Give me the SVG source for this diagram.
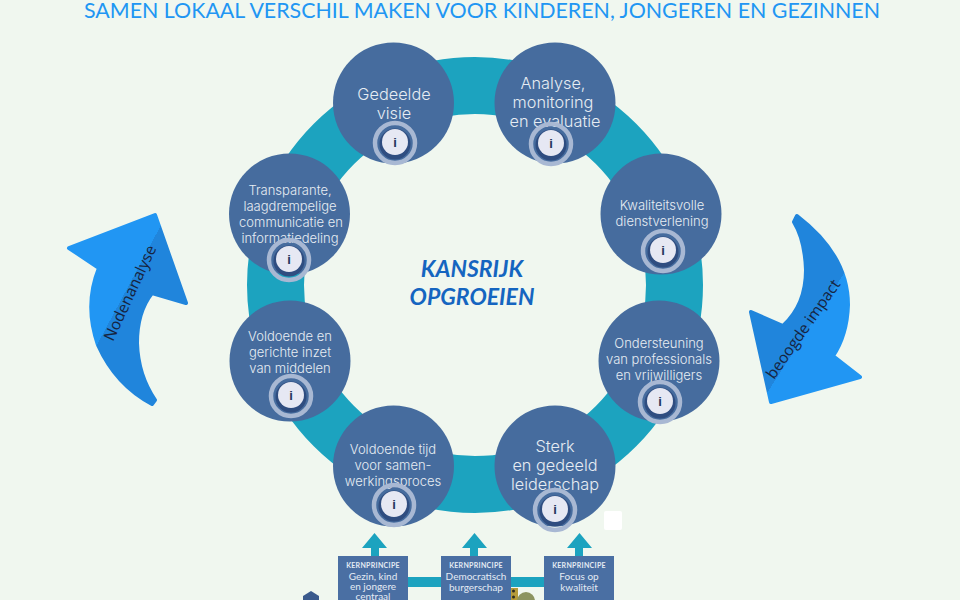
<svg xmlns="http://www.w3.org/2000/svg" width="960" height="600" viewBox="0 0 960 600">
<style>
.c{fill:#466c9e}
.t{font-family:"Inter","Lato",sans-serif;font-weight:300;fill:#e6ecf3;text-anchor:middle}
.l{font-size:16.300px}
.m{font-size:13px}
.o{fill:none;stroke:#a8b8d3;stroke-width:4.500}
.d{fill:#2f4d80}
.w{fill:#e6e8f3}
.i{font-family:"Liberation Sans",sans-serif;font-size:13px;font-weight:bold;fill:#24365c;text-anchor:middle}
.b{fill:#4a6fa3}
.k{font-family:"Lato",sans-serif;font-size:7px;font-weight:bold;letter-spacing:.3px;fill:#e4ebf3;text-anchor:middle}
.s{font-family:"Lato",sans-serif;font-size:10px;fill:#e4ebf3;text-anchor:middle}
.a{fill:#1ca3bf}
.h{font-family:"Lato",sans-serif;font-size:23px;font-weight:bold;font-style:italic;fill:#1565c0;text-anchor:middle}
</style>
<defs>
<linearGradient id="gl" gradientUnits="userSpaceOnUse" x1="129" y1="285" x2="245" y2="347"><stop offset="0" stop-color="#2196f3"/><stop offset="0" stop-color="#2085dc"/></linearGradient>
<linearGradient id="gr" gradientUnits="userSpaceOnUse" x1="805" y1="334" x2="687" y2="258"><stop offset="0" stop-color="#2196f3"/><stop offset="0" stop-color="#2085dc"/></linearGradient>
</defs>
<rect width="960" height="600" fill="#f0f7ef"/>
<text x="482" y="18" font-family="Lato,'Open Sans',sans-serif" font-size="22" fill="#2196f3" text-anchor="middle" textLength="796" lengthAdjust="spacingAndGlyphs">SAMEN LOKAAL VERSCHIL MAKEN VOOR KINDEREN, JONGEREN EN GEZINNEN</text>
<g id="connectors">
<circle cx="475" cy="285" r="199.500" fill="none" stroke="#1ca3bf" stroke-width="57"/>
<rect x="405" y="577" width="142" height="10" class="a"/>
<path class="a" d="M371 557V548H362L374.500 533L387 548H379V557Z"/>
<path class="a" d="M470 557V548H462L474.500 533L487 548H478V557Z"/>
<path class="a" d="M575 557V548H567L579.500 533L592 548H583V557Z"/>
</g>
<g id="arrow-nodenanalyse">
<path d="M155 215L186 303L152 293Q137 312 137 343Q138 375 155 400L152 404Q116 385 98 345Q84 305 99 268L69 248Z" fill="url(#gl)" stroke="url(#gl)" stroke-width="4" stroke-linejoin="round"/>
<text transform="translate(113 342) rotate(-65)" font-family="'Open Sans',sans-serif" font-size="15.500" fill="#16243f">Nodenanalyse</text>
</g>
<g id="arrow-impact">
<path d="M797 216Q848 255 848 305Q847 335 833 356L860 377L771 402L751 312L783 326Q806 305 806 270Q805 240 794 222Z" fill="url(#gr)" stroke="url(#gr)" stroke-width="4" stroke-linejoin="round"/>
<text transform="translate(774 380) rotate(-55)" font-family="'Open Sans',sans-serif" font-size="15.500" fill="#16243f">beoogde impact</text>
</g>
<g id="centre">
<text class="h" x="472" y="277">KANSRIJK</text>
<text class="h" x="472" y="305">OPGROEIEN</text>
</g>
<g id="node-visie">
<circle class="c" cx="393.500" cy="103" r="60.500"/>
<text class="t l" x="394" y="100">Gedeelde</text><text class="t l" x="394" y="119">visie</text>
<circle class="o" cx="395" cy="143" r="20"/><circle class="d" cx="395" cy="144" r="15.500"/><circle class="w" cx="395" cy="142" r="13"/><text class="i" x="395" y="147">i</text>
</g>
<g id="node-analyse">
<circle class="c" cx="555" cy="103" r="60.500"/>
<text class="t l" x="553" y="89">Analyse,</text><text class="t l" x="553" y="108">monitoring</text><text class="t l" x="555" y="127">en evaluatie</text>
<circle class="o" cx="551" cy="144" r="20"/><circle class="d" cx="551" cy="145" r="15.500"/><circle class="w" cx="551" cy="143" r="13"/><text class="i" x="551" y="148">i</text>
</g>
<g id="node-dienstverlening">
<circle class="c" cx="661" cy="214" r="60.500"/>
<text class="t m" x="662" y="210">Kwaliteitsvolle</text><text class="t m" x="662" y="226">dienstverlening</text>
<circle class="o" cx="663" cy="251" r="20"/><circle class="d" cx="663" cy="252" r="15.500"/><circle class="w" cx="663" cy="250" r="13"/><text class="i" x="663" y="255">i</text>
</g>
<g id="node-ondersteuning">
<circle class="c" cx="659" cy="361" r="60.500"/>
<text class="t m" x="659" y="348">Ondersteuning</text><text class="t m" x="659" y="364">van professionals</text><text class="t m" x="659" y="380">en vrijwilligers</text>
<circle class="o" cx="660" cy="402" r="20"/><circle class="d" cx="660" cy="403" r="15.500"/><circle class="w" cx="660" cy="401" r="13"/><text class="i" x="660" y="406">i</text>
</g>
<g id="node-leiderschap">
<circle class="c" cx="555" cy="466" r="60.500"/>
<text class="t l" x="555" y="452">Sterk</text><text class="t l" x="555" y="471">en gedeeld</text><text class="t l" x="555" y="490">leiderschap</text>
<circle class="o" cx="555" cy="510" r="20"/><circle class="d" cx="555" cy="511" r="15.500"/><circle class="w" cx="555" cy="509" r="13"/><text class="i" x="555" y="514">i</text>
</g>
<g id="node-tijd">
<circle class="c" cx="393.500" cy="466" r="60.500"/>
<text class="t m" x="393" y="454">Voldoende tijd</text><text class="t m" x="393" y="470">voor samen-</text><text class="t m" x="393" y="486">werkingsproces</text>
<circle class="o" cx="394" cy="505" r="20"/><circle class="d" cx="394" cy="506" r="15.500"/><circle class="w" cx="394" cy="504" r="13"/><text class="i" x="394" y="509">i</text>
</g>
<g id="node-middelen">
<circle class="c" cx="290" cy="361" r="60.500"/>
<text class="t m" x="290" y="341">Voldoende en</text><text class="t m" x="290" y="357">gerichte inzet</text><text class="t m" x="290" y="373">van middelen</text>
<circle class="o" cx="291" cy="396" r="20"/><circle class="d" cx="291" cy="397" r="15.500"/><circle class="w" cx="291" cy="395" r="13"/><text class="i" x="291" y="400">i</text>
</g>
<g id="node-communicatie">
<circle class="c" cx="289.500" cy="214" r="60.500"/>
<text class="t m" x="290" y="195">Transparante,</text><text class="t m" x="290" y="211">laagdrempelige</text><text class="t m" x="291" y="227">communicatie en</text><text class="t m" x="290" y="243">informatiedeling</text>
<circle class="o" cx="289" cy="260" r="20"/><circle class="d" cx="289" cy="261" r="15.500"/><circle class="w" cx="289" cy="259" r="13"/><text class="i" x="289" y="264">i</text>
</g>
<g id="kern-gezin">
<rect class="b" x="338" y="556" width="70" height="44"/>
<text class="k" x="373" y="568">KERNPRINCIPE</text><text class="s" x="373" y="580">Gezin, kind</text><text class="s" x="373" y="590">en jongere</text><text class="s" x="373" y="600">centraal</text>
</g>
<g id="kern-burgerschap">
<rect class="b" x="441" y="556" width="70" height="44"/>
<text class="k" x="476" y="568">KERNPRINCIPE</text><text class="s" x="476" y="580">Democratisch</text><text class="s" x="476" y="591">burgerschap</text>
</g>
<g id="kern-kwaliteit">
<rect class="b" x="544" y="556" width="70" height="44"/>
<text class="k" x="579" y="568">KERNPRINCIPE</text><text class="s" x="579" y="580">Focus op</text><text class="s" x="579" y="591">kwaliteit</text>
</g>
<g id="icons">
<rect x="604" y="511" width="18" height="19" rx="2" fill="#fff"/>
<path d="M311 591L319 596V600H303V596Z" fill="#3a5a8c"/>
<rect x="511" y="588" width="7" height="12" fill="#b59b3a"/>
<circle cx="513.500" cy="591" r="1.500" fill="#2c2c20"/><circle cx="513.500" cy="597" r="1.500" fill="#2c2c20"/>
<circle cx="526" cy="601" r="9" fill="#8c9460"/>
</g>
</svg>
